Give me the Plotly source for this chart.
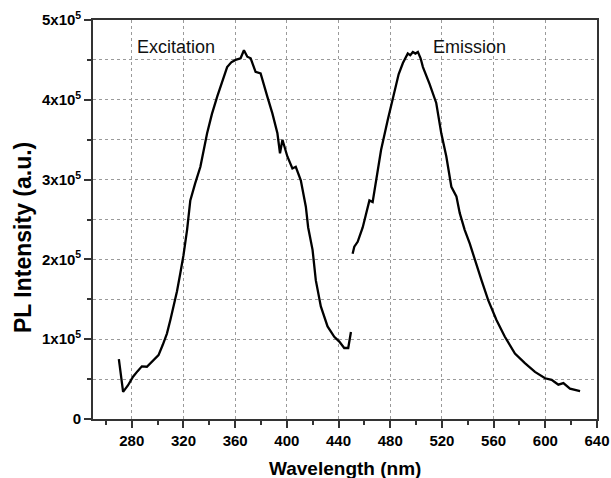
import plotly.graph_objects as go

# Excitation spectrum (wavelength nm, intensity a.u.)
excitation_nm = [270, 273.3, 277, 281, 284.5, 287.8, 291.7, 294, 296.8, 300.7, 304, 307.2, 310,
                 312.4, 315, 317.6, 320, 322.8, 325.3, 329, 333.1, 338.3, 342, 346.1, 350, 353.8,
                 357, 360.3, 364.2, 366.8, 369.4, 372, 375.8, 379.7, 384.9, 388.8, 392.7, 394.7,
                 396.6, 400.4, 404.3, 406.9, 410.8, 414.7, 416.5, 419.9, 422.4, 426.3, 431.5,
                 436.7, 440.6, 444.4, 447.5, 449.6]
excitation_int = [75000, 34000, 42000, 53000, 60000, 66000, 65500, 69000, 74000, 80000, 93000,
                  107000, 125000, 141000, 160000, 183000, 205000, 237000, 274000, 295000, 316000,
                  358000, 382000, 404000, 424000, 441000, 447000, 450000, 452000, 462000, 454000,
                  452000, 435000, 433000, 404000, 383000, 358000, 333000, 350000, 329000, 314000,
                  316000, 299000, 266000, 240000, 212000, 174000, 141000, 116000, 103000, 97000,
                  89000, 89000, 109000]

# Emission spectrum
emission_nm = [450.9, 452.2, 454.8, 458.7, 461, 463.9, 466.4, 470.3, 472.9, 478.1, 483.3, 486.5,
               489.8, 493.6, 495.5, 497.5, 499.5, 501.4, 503.5, 505.3, 510.4, 515.6, 519.5, 523.4,
               527.3, 531.2, 533.8, 537.6, 541.5, 545.4, 550.6, 555.8, 562.2, 568.7, 576.5, 584.2,
               592, 599.8, 604.9, 607.5, 610.1, 614, 619.1, 626.9]
emission_int = [207000, 216000, 222000, 240000, 255000, 274000, 272000, 308000, 337000, 375000,
                412000, 432000, 446000, 458000, 456000, 460000, 458000, 460000, 452000, 441000,
                420000, 396000, 358000, 329000, 291000, 279000, 258000, 237000, 220000, 199000,
                174000, 149000, 124000, 103000, 82000, 70000, 59000, 51000, 49000, 46000, 43000,
                45000, 38000, 35000]

y_tickvals = [0, 100000, 200000, 300000, 400000, 500000]
y_ticktext = ["0", "1x10<sup>5</sup>", "2x10<sup>5</sup>", "3x10<sup>5</sup>",
              "4x10<sup>5</sup>", "5x10<sup>5</sup>"]
x_tickvals = [280, 320, 360, 400, 440, 480, 520, 560, 600, 640]

FONT = "Liberation Sans, Arial, sans-serif"
line_style = dict(color="black", width=2.3)

fig = go.Figure()
fig.add_trace(go.Scatter(x=excitation_nm, y=excitation_int, mode="lines", line=line_style,
                         showlegend=False))
fig.add_trace(go.Scatter(x=emission_nm, y=emission_int, mode="lines", line=line_style,
                         showlegend=False))

grid = dict(gridcolor="#9a9a9a", griddash="dot", gridwidth=1)

fig.update_xaxes(
    range=[250, 640], tickmode="array", tickvals=x_tickvals, automargin=False,
    ticks="outside", ticklen=7, tickwidth=1.5, tickcolor="#333",
    showline=True, linecolor="#333", linewidth=1.6, mirror=True,
    showgrid=True, **grid, zeroline=False,
    tickfont=dict(family=FONT, size=15, color="black", weight="bold"),
    minor=dict(tickmode="linear", tick0=260, dtick=40, ticks="outside", ticklen=4,
               tickwidth=1.5, tickcolor="#333", showgrid=False),
)
fig.update_yaxes(
    range=[0, 500000], tickmode="array", tickvals=y_tickvals, ticktext=y_ticktext,
    automargin=False,
    ticks="outside", ticklen=7, tickwidth=1.5, tickcolor="#333",
    showline=True, linecolor="#333", linewidth=1.6, mirror=True,
    showgrid=True, **grid, zeroline=False,
    tickfont=dict(family=FONT, size=15, color="black", weight="bold"),
    minor=dict(tickmode="linear", tick0=50000, dtick=100000, ticks="outside", ticklen=4,
               tickwidth=1.5, tickcolor="#333", showgrid=True, **grid),
)

# axis titles as annotations for precise placement
fig.add_annotation(xref="paper", yref="paper", x=0.5, y=-0.123, yanchor="middle",
                   text="Wavelength (nm)", showarrow=False,
                   font=dict(family=FONT, size=19, color="black", weight="bold"))
fig.add_annotation(xref="paper", yref="paper", x=-0.139, y=0.456, xanchor="center",
                   yanchor="middle", textangle=-90,
                   text="PL Intensity (a.u.)", showarrow=False,
                   font=dict(family=FONT, size=23, color="black", weight="bold"))

fig.add_annotation(x=314, y=466000, text="Excitation", showarrow=False,
                   font=dict(family=FONT, size=18, color="#111"))
fig.add_annotation(x=541, y=466000, text="Emission", showarrow=False,
                   font=dict(family=FONT, size=18, color="#111"))

fig.update_layout(
    width=611, height=478,
    margin=dict(l=93, r=14, t=20, b=59),
    paper_bgcolor="white", plot_bgcolor="white",
)

# remove the default page margin so the figure fills the window exactly
fig.write_html(
    "out.html",
    config={"displayModeBar": False},
    post_script="document.body.style.margin='0';document.body.style.overflow='hidden';",
)
